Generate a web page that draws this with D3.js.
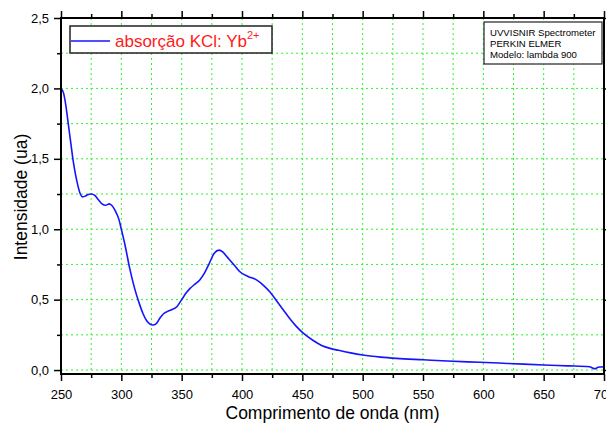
<!DOCTYPE html>
<html>
<head>
<meta charset="utf-8">
<script src="https://cdn.jsdelivr.net/npm/d3@7"></script>
<style>
  html, body { margin: 0; padding: 0; background: #fff; }
  svg { display: block; font-family: Arial, "Liberation Sans", sans-serif; }
</style>
</head>
<body>
<svg id="chart" width="606" height="425"></svg>
<script>
// Absorption spectrum of KCl:Yb2+ (wavelength in nm, intensity in a.u.)
const wavelength = [250, 252, 254, 256, 258, 260, 262, 264, 266, 268, 270, 272, 275, 278, 281, 284, 287, 290, 292, 295, 298, 300,
  303, 307, 311, 315, 318, 321, 324, 326, 329, 332, 335, 338, 342, 346, 350, 354, 357, 361, 365, 369, 373, 377, 381, 384, 387,
  390, 394, 398, 405, 412, 418, 423, 428, 434, 440, 445, 451, 459, 466, 473, 480, 490, 500, 515, 528, 550, 570, 597, 620, 650,
  670, 688, 691, 693, 695, 700];
const intensity = [2.00, 1.97, 1.88, 1.75, 1.62, 1.49, 1.39, 1.31, 1.25, 1.23, 1.235, 1.245, 1.25, 1.24, 1.21, 1.18, 1.17, 1.18, 1.17, 1.13, 1.07, 1.00,
  0.89, 0.72, 0.58, 0.47, 0.40, 0.35, 0.325, 0.32, 0.33, 0.37, 0.40, 0.415, 0.43, 0.45, 0.50, 0.55, 0.58, 0.61, 0.64, 0.69, 0.76, 0.83,
  0.852, 0.84, 0.81, 0.78, 0.74, 0.70, 0.665, 0.64, 0.60, 0.556, 0.50, 0.43, 0.36, 0.31, 0.26, 0.21, 0.175, 0.154, 0.14, 0.122,
  0.107, 0.092, 0.083, 0.073, 0.064, 0.055, 0.047, 0.036, 0.030, 0.024, 0.012, 0.010, 0.020, 0.024];

const xMajorTicks = [250, 300, 350, 400, 450, 500, 550, 600, 650, 700];
const xMinorTicks = [275, 325, 375, 425, 475, 525, 575, 625, 675];
const yMajorTicks = [0, 0.5, 1.0, 1.5, 2.0, 2.5];
const yMinorTicks = [0.25, 0.75, 1.25, 1.75, 2.25];

const legendLabel = "absorção KCl: Yb";
const legendSup = "2+";
const infoLines = ["UVVISNIR Spectrometer", "PERKIN ELMER", "Modelo: lambda 900"];
const xTitle = "Comprimento de onda (nm)";
const yTitle = "Intensidade (ua)";

const svg = d3.select("#chart");
const plotL = 61, plotR = 604, plotT = 18, plotB = 374;

const x = d3.scaleLinear().domain([250, 700]).range([plotL, plotR]);
const y = d3.scaleLinear().domain([-0.028, 2.5]).range([plotB, plotT]);

const fmtY = v => d3.format(".1f")(v).replace(".", ",");

// grid
const grid = svg.append("g").attr("stroke", "#2af52a").attr("stroke-width", 1)
  .attr("stroke-dasharray", "2,3").attr("fill", "none");
xMajorTicks.concat(xMinorTicks).forEach(t => {
  grid.append("line").attr("x1", x(t)).attr("x2", x(t)).attr("y1", plotT).attr("y2", plotB);
});
yMajorTicks.concat(yMinorTicks).forEach(t => {
  grid.append("line").attr("x1", plotL).attr("x2", plotR).attr("y1", y(t)).attr("y2", y(t));
});

// data line
const data = wavelength.map((w, i) => [w, intensity[i]]);
svg.append("path")
  .datum(data)
  .attr("fill", "none")
  .attr("stroke", "#1414ff")
  .attr("stroke-width", 1.6)
  .attr("d", d3.line().x(d => x(d[0])).y(d => y(d[1])).curve(d3.curveMonotoneX));

// axes
function styleAxis(g) {
  g.selectAll(".domain").remove();
  g.selectAll(".tick line").attr("stroke", "#000").attr("stroke-width", 1.5);
  g.selectAll(".tick text").attr("fill", "#000").style("font-size", "13px")
    .style("font-family", "Arial, 'Liberation Sans', sans-serif");
}

const bottomAxis = svg.append("g").attr("transform", `translate(0,${plotB})`)
  .call(d3.axisBottom(x).tickValues(xMajorTicks).tickSize(7).tickPadding(6).tickFormat(d3.format("d")));
styleAxis(bottomAxis);
bottomAxis.selectAll(".tick text").attr("dy", "0.95em");
svg.append("g").attr("transform", `translate(0,${plotB})`)
  .call(d3.axisBottom(x).tickValues(xMinorTicks).tickSize(4).tickFormat(""))
  .call(styleAxis);

svg.append("g").attr("transform", `translate(0,${plotT})`)
  .call(d3.axisTop(x).tickValues(xMajorTicks).tickSize(7).tickFormat(""))
  .call(styleAxis);
svg.append("g").attr("transform", `translate(0,${plotT})`)
  .call(d3.axisTop(x).tickValues(xMinorTicks).tickSize(4).tickFormat(""))
  .call(styleAxis);

const leftAxis = svg.append("g").attr("transform", `translate(${plotL},0)`)
  .call(d3.axisLeft(y).tickValues(yMajorTicks).tickSize(7).tickPadding(5).tickFormat(fmtY));
styleAxis(leftAxis);
svg.append("g").attr("transform", `translate(${plotL},0)`)
  .call(d3.axisLeft(y).tickValues(yMinorTicks).tickSize(4).tickFormat(""))
  .call(styleAxis);

svg.append("g").attr("transform", `translate(${plotR},0)`)
  .call(d3.axisRight(y).tickValues(yMajorTicks).tickSize(7).tickFormat(""))
  .call(styleAxis);

// frame
svg.append("rect").attr("x", plotL).attr("y", plotT)
  .attr("width", plotR - plotL).attr("height", plotB - plotT)
  .attr("fill", "none").attr("stroke", "#000").attr("stroke-width", 2);

// axis titles
svg.append("text").attr("x", (plotL + plotR) / 2).attr("y", 419)
  .attr("text-anchor", "middle").style("font-size", "17.5px").attr("fill", "#000").text(xTitle);
svg.append("text").attr("transform", "translate(27,197) rotate(-90)")
  .attr("text-anchor", "middle").style("font-size", "17.5px").attr("fill", "#000").text(yTitle);

// legend
const lg = svg.append("g");
lg.append("rect").attr("x", 70).attr("y", 26).attr("width", 202).attr("height", 27)
  .attr("fill", "#fff").attr("stroke", "#222").attr("stroke-width", 1.5);
lg.append("line").attr("x1", 71).attr("x2", 110).attr("y1", 41).attr("y2", 41)
  .attr("stroke", "#1414ff").attr("stroke-width", 1.6);
const lt = lg.append("text").attr("x", 115).attr("y", 47).attr("fill", "#ff1a1a").style("font-size", "17px");
lt.append("tspan").text(legendLabel);
lt.append("tspan").attr("dy", -8).style("font-size", "11px").text(legendSup);

// instrument info box
const ib = svg.append("g");
ib.append("rect").attr("x", 484).attr("y", 22).attr("width", 118).attr("height", 42)
  .attr("fill", "#fff").attr("stroke", "#222").attr("stroke-width", 1.2);
infoLines.forEach((s, i) => {
  ib.append("text").attr("x", 490).attr("y", 35.5 + i * 11.4).style("font-size", "9.6px")
    .attr("fill", "#000").text(s);
});
</script>
</body>
</html>
